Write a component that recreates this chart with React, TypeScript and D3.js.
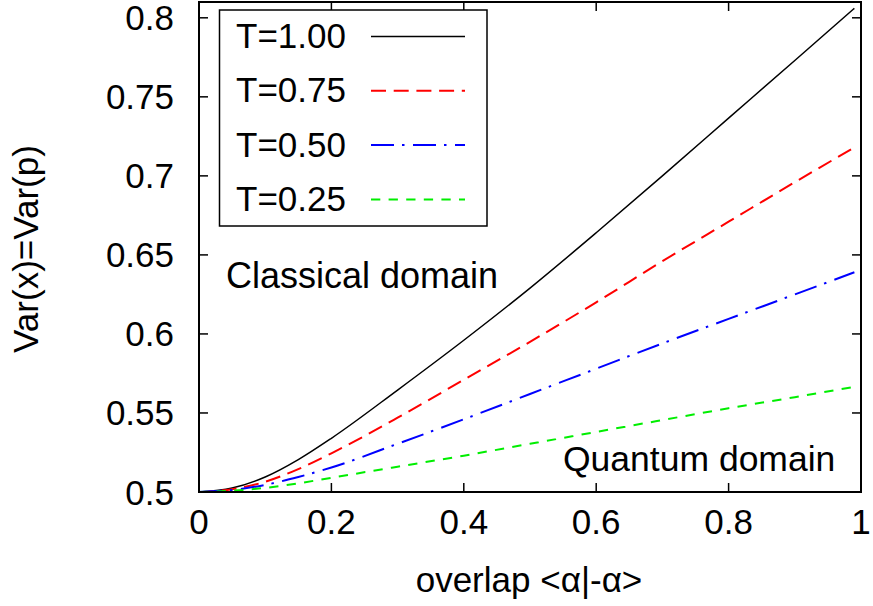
import React from "react";
import * as d3 from "d3";

const overlap = [0, 0.05, 0.1, 0.15, 0.2, 0.3, 0.4, 0.5, 0.6, 0.7, 0.8, 0.9, 0.99];
const varT100 = [0.5, 0.5025, 0.5095, 0.5205, 0.534, 0.5645, 0.596, 0.629, 0.664, 0.7, 0.7365, 0.773, 0.806];
const varT075 = [0.5, 0.5018, 0.5065, 0.5145, 0.5245, 0.547, 0.571, 0.595, 0.62, 0.646, 0.671, 0.696, 0.718];
const varT050 = [0.5, 0.5013, 0.5045, 0.5095, 0.5155, 0.5305, 0.546, 0.562, 0.578, 0.594, 0.6095, 0.625, 0.639];
const varT025 = [0.5, 0.5008, 0.5026, 0.5055, 0.509, 0.516, 0.523, 0.5305, 0.538, 0.5455, 0.553, 0.56, 0.5665];

const seriesLabels = ["T=1.00", "T=0.75", "T=0.50", "T=0.25"];
const xTicks = [0, 0.2, 0.4, 0.6, 0.8, 1];
const yTicks = [0.5, 0.55, 0.6, 0.65, 0.7, 0.75, 0.8];

const styles = [
  { color: "#000000", dash: "", width: 1.5 },
  { color: "#ff0000", dash: "15,7.7", width: 2 },
  { color: "#0000ff", dash: "23,8,2.5,8.5", width: 2 },
  { color: "#00ee00", dash: "9.3,8.3", width: 2 },
];

const W = 873;
const H = 606;
const L = 199, R = 861, T = 2, B = 492;
const FONT = "'Liberation Sans', Arial, sans-serif";

export default function App() {
  const x = d3.scaleLinear().domain([0, 1]).range([L, R]);
  const y = d3.scaleLinear().domain([0.5, 0.81]).range([B, T]);
  const series = [varT100, varT075, varT050, varT025];
  const line = d3
    .line<[number, number]>()
    .x((d) => x(d[0]))
    .y((d) => y(d[1]))
    .curve(d3.curveMonotoneX);

  const tickLen = 9;
  return (
    <svg
      width={W}
      height={H}
      style={{ position: "absolute", left: 0, top: 0, background: "#fff" }}
      fontFamily={FONT}
    >
      <rect x={0} y={0} width={W} height={H} fill="#fff" />
      {xTicks.map((t) => (
        <g key={"xt" + t}>
          <line x1={x(t)} x2={x(t)} y1={B} y2={B - tickLen} stroke="#000" strokeWidth={1.5} />
          <line x1={x(t)} x2={x(t)} y1={T} y2={T + tickLen} stroke="#000" strokeWidth={1.5} />
          <text x={x(t)} y={534} fontSize={35} textAnchor="middle" fill="#000">
            {String(t)}
          </text>
        </g>
      ))}
      {yTicks.map((t) => (
        <g key={"yt" + t}>
          <line x1={L} x2={L + tickLen} y1={y(t)} y2={y(t)} stroke="#000" strokeWidth={1.5} />
          <line x1={R} x2={R - tickLen} y1={y(t)} y2={y(t)} stroke="#000" strokeWidth={1.5} />
          <text x={174} y={y(t) + 12.5} fontSize={35} textAnchor="end" fill="#000">
            {String(t)}
          </text>
        </g>
      ))}
      {series.map((s, i) => (
        <path
          key={"s" + i}
          d={line(overlap.map((o, j) => [o, s[j]] as [number, number])) || ""}
          fill="none"
          stroke={styles[i].color}
          strokeWidth={styles[i].width}
          strokeDasharray={styles[i].dash}
        />
      ))}
      <rect x={L} y={T} width={R - L} height={B - T} fill="none" stroke="#000" strokeWidth={2} />
      <rect x={219.5} y={10} width={267.5} height={216} fill="#fff" stroke="#000" strokeWidth={1.5} />
      {seriesLabels.map((lab, i) => (
        <g key={"lg" + i}>
          <text x={236} y={48 + i * 54.3} fontSize={35} fill="#000">
            {lab}
          </text>
          <line
            x1={371}
            x2={465}
            y1={36.5 + i * 54.3}
            y2={36.5 + i * 54.3}
            stroke={styles[i].color}
            strokeWidth={styles[i].width}
            strokeDasharray={styles[i].dash}
          />
        </g>
      ))}
      <text x={226} y={288} fontSize={36} fill="#000">
        Classical domain
      </text>
      <text x={563} y={471} fontSize={35.5} fill="#000">
        Quantum domain
      </text>
      <text x={529} y={592} fontSize={35} textAnchor="middle" fill="#000">
        overlap &lt;α|-α&gt;
      </text>
      <text
        transform={`translate(38,249) rotate(-90)`}
        fontSize={35}
        textAnchor="middle"
        fill="#000"
      >
        Var(x)=Var(p)
      </text>
    </svg>
  );
}
